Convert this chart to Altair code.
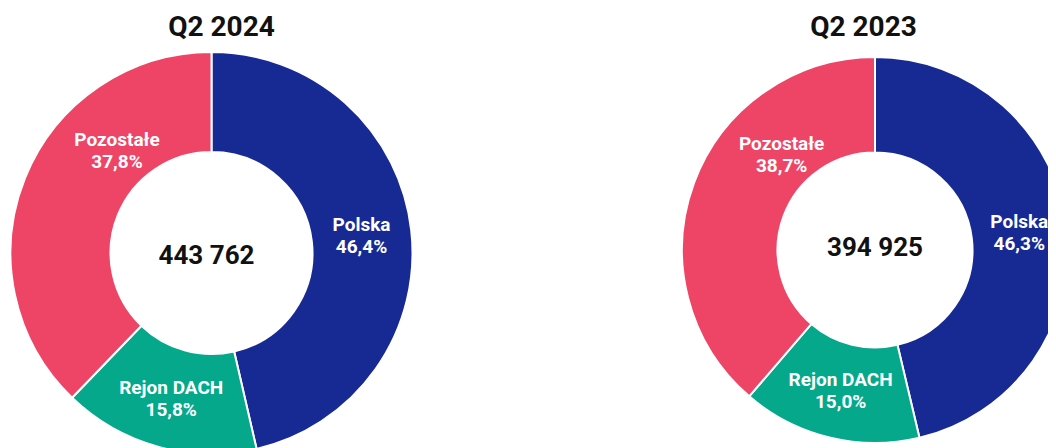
import math
import altair as alt
import pandas as pd

# ---- data ----
periods = ["Q2 2024", "Q2 2023"]
categories = ["Polska", "Rejon DACH", "Pozostałe"]
shares_q2_2024 = [46.4, 15.8, 37.8]
shares_q2_2023 = [46.3, 15.0, 38.7]
totals = [443762, 394925]

# ---- styling ----
colors = ["#172A94", "#05A88B", "#EE4567"]
FONT = "Roboto"

rows = []
for p, shares in zip(periods, [shares_q2_2024, shares_q2_2023]):
    cum = 0.0
    for i, (c, s) in enumerate(zip(categories, shares)):
        pct = f"{s:.1f}".replace(".", ",") + "%"
        rows.append(dict(period=p, category=c, idx=i, share=s,
                         start=cum / 100, end=(cum + s) / 100,
                         mid=(cum + s / 2) / 100, label=f"{c}\n{pct}"))
        cum += s
df = pd.DataFrame(rows)

df_tot = pd.DataFrame(dict(period=periods, total=totals,
                           total_label=[f"{t:,}".replace(",", " ") for t in totals]))

# panel geometry (pixels inside the svg)
panels = {
    "Q2 2024": dict(cx=203.5, cy=245, ro=201, ri=101, tx=213.5, ty=28, nx=198.5, ny=248),
    "Q2 2023": dict(cx=867, cy=242, ro=193, ri=97.5, tx=855.5, ty=28, nx=867, ny=240),
}

theta_scale = alt.Scale(domain=[0, 1], range=[0, 2 * math.pi])
color_scale = alt.Scale(domain=categories, range=colors)

layers = []
for p, g in panels.items():
    sel = f"datum.period === '{p}'"
    arcs = alt.Chart(df).transform_filter(sel).mark_arc(
        outerRadius=g["ro"], innerRadius=g["ri"], stroke="white", strokeWidth=2
    ).encode(
        theta=alt.Theta("start:Q", scale=theta_scale),
        theta2="end:Q",
        color=alt.Color("category:N", scale=color_scale, legend=None),
        x=alt.value(g["cx"]),
        y=alt.value(g["cy"]),
    )
    mid_r = (g["ro"] + g["ri"]) / 2
    labels = alt.Chart(df).transform_filter(sel).transform_calculate(
        lab_theta="datum.mid + (datum.category === 'Pozostałe' ? 0.07 : 0)",
        lab_r=f"{mid_r} - (datum.category === 'Pozostałe' ? 12 : 0)",
    ).mark_text(
        color="white", font=FONT, fontSize=19, fontWeight="bold",
        lineBreak="\n", lineHeight=22, align="center", baseline="middle", dy=-11
    ).encode(
        theta=alt.Theta("lab_theta:Q", scale=theta_scale),
        radius=alt.Radius("lab_r:Q", scale=None),
        text="label:N",
        x=alt.value(g["cx"]),
        y=alt.value(g["cy"]),
    )
    center = alt.Chart(df_tot).transform_filter(sel).mark_text(
        color="#111111", font=FONT, fontSize=26, fontWeight="bold",
        align="center", baseline="middle"
    ).encode(text="total_label:N", x=alt.value(g["nx"]), y=alt.value(g["ny"]))
    title = alt.Chart(df_tot).transform_filter(sel).mark_text(
        color="#111111", font=FONT, fontSize=28, fontWeight="bold",
        align="center", baseline="alphabetic"
    ).encode(text="period:N", x=alt.value(g["tx"]), y=alt.value(g["ty"]))
    layers += [arcs, labels, center, title]

chart = alt.layer(*layers).properties(
    width=1040, height=440, padding=0, autosize="none", background="white"
).configure_view(stroke=None)

chart.save("out.html", embed_options={"renderer": "svg", "actions": False})
